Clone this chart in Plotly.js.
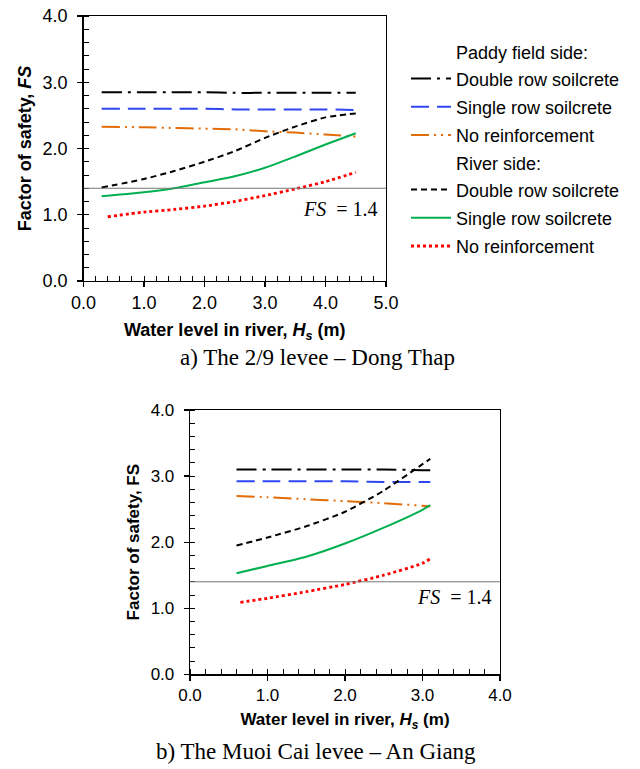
<!DOCTYPE html>
<html>
<head>
<meta charset="utf-8">
<script src="https://cdn.plot.ly/plotly-3.0.1.min.js"></script>
<style>html,body{margin:0;padding:0;background:#fff;}#chart{width:640px;height:769px;}</style>
</head>
<body>
<div id="chart"></div>
<script>
// ---------- Data: (a) The 2/9 levee – Dong Thap ----------
const xA = [0.3, 1.0, 1.5, 2.0, 2.5, 3.0, 3.5, 4.0, 4.5];
const xA_red = [0.4, 1.0, 1.5, 2.0, 2.5, 3.0, 3.5, 4.0, 4.5];
const A_paddyDouble = [2.85, 2.85, 2.85, 2.85, 2.84, 2.84, 2.84, 2.84, 2.84];
const A_paddySingle = [2.60, 2.60, 2.60, 2.60, 2.59, 2.59, 2.59, 2.59, 2.58];
const A_paddyNone   = [2.33, 2.32, 2.31, 2.30, 2.29, 2.26, 2.24, 2.21, 2.18];
const A_riverDouble = [1.41, 1.54, 1.66, 1.80, 1.96, 2.16, 2.33, 2.47, 2.53];
const A_riverSingle = [1.28, 1.34, 1.40, 1.49, 1.58, 1.71, 1.88, 2.06, 2.23];
const A_riverNone   = [0.97, 1.04, 1.08, 1.13, 1.20, 1.29, 1.39, 1.50, 1.64];

// ---------- Data: (b) The Muoi Cai levee – An Giang ----------
const xB = [0.6, 1.0, 1.5, 2.0, 2.5, 3.0, 3.1];
const xB_red = [0.65, 1.0, 1.5, 2.0, 2.5, 3.0, 3.1];
const B_paddyDouble = [3.10, 3.10, 3.10, 3.10, 3.10, 3.09, 3.09];
const B_paddySingle = [2.92, 2.92, 2.92, 2.92, 2.91, 2.91, 2.91];
const B_paddyNone   = [2.70, 2.68, 2.65, 2.62, 2.59, 2.55, 2.54];
const B_riverDouble = [1.95, 2.07, 2.24, 2.46, 2.78, 3.18, 3.26];
const B_riverSingle = [1.53, 1.64, 1.78, 1.98, 2.22, 2.49, 2.56];
const B_riverNone   = [1.09, 1.15, 1.25, 1.36, 1.50, 1.68, 1.75];

const FS_LIMIT = 1.4;
const seriesNames = ["Double row soilcrete", "Single row soilcrete", "No reinforcement"];
const groupTitles = ["Paddy field side:", "River side:"];
const captions = ["a) The 2/9 levee \u2013 Dong Thap", "b) The Muoi Cai levee \u2013 An Giang"];

// ---------- Styles ----------
const SANS = "Liberation Sans, Arial, sans-serif";
const SERIF = "Liberation Serif, Times New Roman, serif";
const styles = [
  {color: "#000000", dash: "20px,6px,3px,6px", width: 2},            // paddy double
  {color: "#2f45f0", dash: "18px,8px", width: 2},                      // paddy single
  {color: "#e36c0a", dash: "18px,5px,2px,5px,2px,5px", width: 2},     // paddy none
  {color: "#000000", dash: "6px,4px", width: 2},                       // river double
  {color: "#00b050", dash: "solid", width: 2},                         // river single
  {color: "#ff0000", dash: "dot", width: 2.8}                          // river none
];
const PAD = "\u00a0".repeat(9);

const traces = [];
function addTrace(x, y, idx, xa, ya, showlegend) {
  const s = styles[idx];
  const t = {
    x: x, y: y, type: "scatter", mode: "lines",
    name: seriesNames[idx % 3],
    line: {color: s.color, dash: s.dash, width: s.width, shape: "spline", smoothing: 0.6},
    xaxis: xa, yaxis: ya,
    showlegend: showlegend,
    legendgroup: "g" + idx,
    hoverinfo: "skip"
  };
  if (showlegend && idx % 3 === 0) {
    t.legendgrouptitle = {text: PAD + groupTitles[idx / 3], font: {family: SANS, size: 18, color: "#000"}};
  }
  traces.push(t);
}
const Aseries = [A_paddyDouble, A_paddySingle, A_paddyNone, A_riverDouble, A_riverSingle, A_riverNone];
const Bseries = [B_paddyDouble, B_paddySingle, B_paddyNone, B_riverDouble, B_riverSingle, B_riverNone];
Aseries.forEach((ys, i) => addTrace(i === 5 ? xA_red : xA, ys, i, "x", "y", true));
Bseries.forEach((ys, i) => addTrace(i === 5 ? xB_red : xB, ys, i, "x2", "y2", false));

function axisBase(size) {
  return {
    showline: true, mirror: true, linecolor: "#000", linewidth: 1.3,
    showgrid: false, zeroline: false,
    ticks: "outside", ticklen: 5, tickwidth: 1.3, tickcolor: "#000",
    tickformat: ".1f", dtick: 1, tick0: 0,
    tickfont: {family: SANS, size: size, color: "#000"},
    minor: {ticks: "inside", dtick: 0.2, ticklen: 5, tickwidth: 1, tickcolor: "#000"},
    fixedrange: true
  };
}

const layout = {
  width: 640, height: 769,
  margin: {l: 0, r: 0, t: 0, b: 0},
  paper_bgcolor: "#fff", plot_bgcolor: "#fff",
  showlegend: true,
  legend: {
    x: 406 / 640, xanchor: "left", y: 1 - 34 / 769, yanchor: "top",
    font: {family: SANS, size: 18, color: "#000"},
    itemwidth: 40,
    tracegroupgap: 1.8, bgcolor: "rgba(0,0,0,0)", borderwidth: 0
  },
  xaxis: Object.assign(axisBase(18), {
    domain: [83.5 / 640, 386 / 640], range: [0, 5], anchor: "y",
    title: {text: "<b>Water level in river, <i>H<sub>s</sub></i> (m)</b>", font: {family: SANS, size: 18, color: "#000"}, standoff: 11}
  }),
  yaxis: Object.assign(axisBase(18), {
    domain: [1 - 281 / 769, 1 - 16 / 769], range: [0, 4], anchor: "x",
    ticklabelstandoff: 6,
    title: {text: "<b>Factor of safety, <i>FS</i></b>", font: {family: SANS, size: 18, color: "#000"}, standoff: 6}
  }),
  xaxis2: Object.assign(axisBase(17), {
    domain: [190 / 640, 500 / 640], range: [0, 4], anchor: "y2",
    title: {text: "<b>Water level in river, <i>H<sub>s</sub></i> (m)</b>", font: {family: SANS, size: 17, color: "#000"}, standoff: 9}
  }),
  yaxis2: Object.assign(axisBase(17), {
    domain: [1 - 674.3 / 769, 1 - 410 / 769], range: [0, 4], anchor: "x2",
    ticklabelstandoff: 6,
    title: {text: "<b>Factor of safety, FS</b>", font: {family: SANS, size: 17, color: "#000"}, standoff: 6}
  }),
  shapes: [
    {type: "line", xref: "x domain", yref: "y", x0: 0, x1: 1, y0: FS_LIMIT, y1: FS_LIMIT, line: {color: "#777", width: 1}},
    {type: "line", xref: "x2 domain", yref: "y2", x0: 0, x1: 1, y0: FS_LIMIT, y1: FS_LIMIT, line: {color: "#777", width: 1}}
  ],
  annotations: [
    {xref: "x", yref: "y", x: 4.24, y: 1.09, text: "<i>FS</i>\u00a0\u00a0= " + FS_LIMIT.toFixed(1), showarrow: false,
     font: {family: SERIF, size: 20, color: "#000"}},
    {xref: "x2", yref: "y2", x: 3.41, y: 1.165, text: "<i>FS</i>\u00a0\u00a0= " + FS_LIMIT.toFixed(1), showarrow: false,
     font: {family: SERIF, size: 20, color: "#000"}},
    {xref: "paper", yref: "paper", x: 317 / 640, y: 1 - 357 / 769, text: captions[0], showarrow: false,
     xanchor: "center", yanchor: "middle", font: {family: SERIF, size: 23, color: "#000"}},
    {xref: "paper", yref: "paper", x: 316 / 640, y: 1 - 751 / 769, text: captions[1], showarrow: false,
     xanchor: "center", yanchor: "middle", font: {family: SERIF, size: 23, color: "#000"}}
  ]
};

Plotly.newPlot("chart", traces, layout, {displayModeBar: false, staticPlot: true});
</script>
</body>
</html>
